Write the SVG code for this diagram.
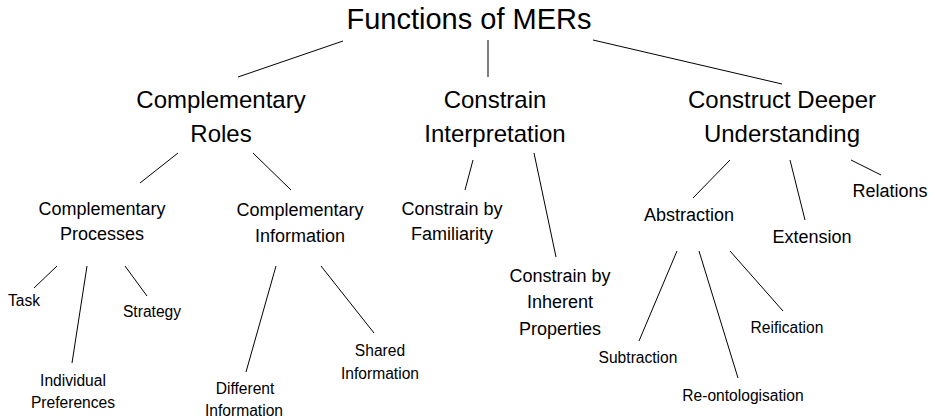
<svg xmlns="http://www.w3.org/2000/svg" width="935" height="420" viewBox="0 0 935 420">
  <style>
    text { font-family: "Liberation Sans", Arial, Helvetica, sans-serif; fill: #000; text-anchor: middle; }
    .t0 { font-size: 29px; }
    .t1 { font-size: 24px; }
    .t2 { font-size: 18px; }
    .t3 { font-size: 15.6px; }
    #connectors line { stroke: #000; stroke-width: 1; }
  </style>
  <rect width="935" height="420" fill="#fff"/>

  <g id="connectors">
    <!-- root to level 1 -->
    <line x1="343" y1="41" x2="238" y2="77"/>
    <line x1="488" y1="40" x2="488" y2="77"/>
    <line x1="593" y1="40" x2="782" y2="84"/>
    <!-- Complementary Roles -->
    <line x1="178" y1="153" x2="140" y2="183"/>
    <line x1="253" y1="153" x2="291" y2="190"/>
    <!-- Constrain Interpretation -->
    <line x1="473" y1="160" x2="465" y2="190"/>
    <line x1="534" y1="153" x2="556" y2="257"/>
    <!-- Construct Deeper Understanding -->
    <line x1="730" y1="160" x2="693" y2="198"/>
    <line x1="790" y1="160" x2="805" y2="220"/>
    <line x1="851" y1="160" x2="881" y2="175"/>
    <!-- Complementary Processes -->
    <line x1="57" y1="266" x2="34" y2="288"/>
    <line x1="87" y1="266" x2="72" y2="363"/>
    <line x1="125" y1="266" x2="147" y2="296"/>
    <!-- Complementary Information -->
    <line x1="276" y1="266" x2="246" y2="372"/>
    <line x1="321" y1="266" x2="374" y2="333"/>
    <!-- Abstraction -->
    <line x1="677" y1="251" x2="639" y2="341"/>
    <line x1="699" y1="251" x2="738" y2="378"/>
    <line x1="730" y1="251" x2="783" y2="311"/>
  </g>

  <g id="functions-of-mers">
    <text class="t0" x="469" y="29">Functions of MERs</text>
  </g>

  <g id="complementary-roles">
    <text class="t1" x="221" y="108">Complementary</text>
    <text class="t1" x="221" y="142">Roles</text>
  </g>
  <g id="constrain-interpretation">
    <text class="t1" x="495" y="108">Constrain</text>
    <text class="t1" x="495" y="142">Interpretation</text>
  </g>
  <g id="construct-deeper-understanding">
    <text class="t1" x="782" y="108">Construct Deeper</text>
    <text class="t1" x="782" y="142">Understanding</text>
  </g>

  <g id="complementary-processes">
    <text class="t2" x="102" y="215">Complementary</text>
    <text class="t2" x="102" y="240">Processes</text>
  </g>
  <g id="complementary-information">
    <text class="t2" x="300" y="216">Complementary</text>
    <text class="t2" x="300" y="242">Information</text>
  </g>
  <g id="constrain-by-familiarity">
    <text class="t2" x="452" y="215">Constrain by</text>
    <text class="t2" x="452" y="240">Familiarity</text>
  </g>
  <g id="constrain-by-inherent-properties">
    <text class="t2" x="560" y="282">Constrain by</text>
    <text class="t2" x="560" y="308">Inherent</text>
    <text class="t2" x="560" y="335">Properties</text>
  </g>
  <g id="abstraction">
    <text class="t2" x="689" y="221">Abstraction</text>
  </g>
  <g id="extension">
    <text class="t2" x="812" y="243">Extension</text>
  </g>
  <g id="relations">
    <text class="t2" x="890" y="197">Relations</text>
  </g>

  <g id="task">
    <text class="t3" x="24" y="306">Task</text>
  </g>
  <g id="individual-preferences">
    <text class="t3" x="73" y="386">Individual</text>
    <text class="t3" x="73" y="408">Preferences</text>
  </g>
  <g id="strategy">
    <text class="t3" x="152" y="317">Strategy</text>
  </g>
  <g id="different-information">
    <text class="t3" x="245" y="394">Different</text>
    <text class="t3" x="244" y="416">Information</text>
  </g>
  <g id="shared-information">
    <text class="t3" x="380" y="356">Shared</text>
    <text class="t3" x="380" y="379">Information</text>
  </g>
  <g id="subtraction">
    <text class="t3" x="638" y="363">Subtraction</text>
  </g>
  <g id="re-ontologisation">
    <text class="t3" x="743" y="401">Re-ontologisation</text>
  </g>
  <g id="reification">
    <text class="t3" x="787" y="333">Reification</text>
  </g>
</svg>
